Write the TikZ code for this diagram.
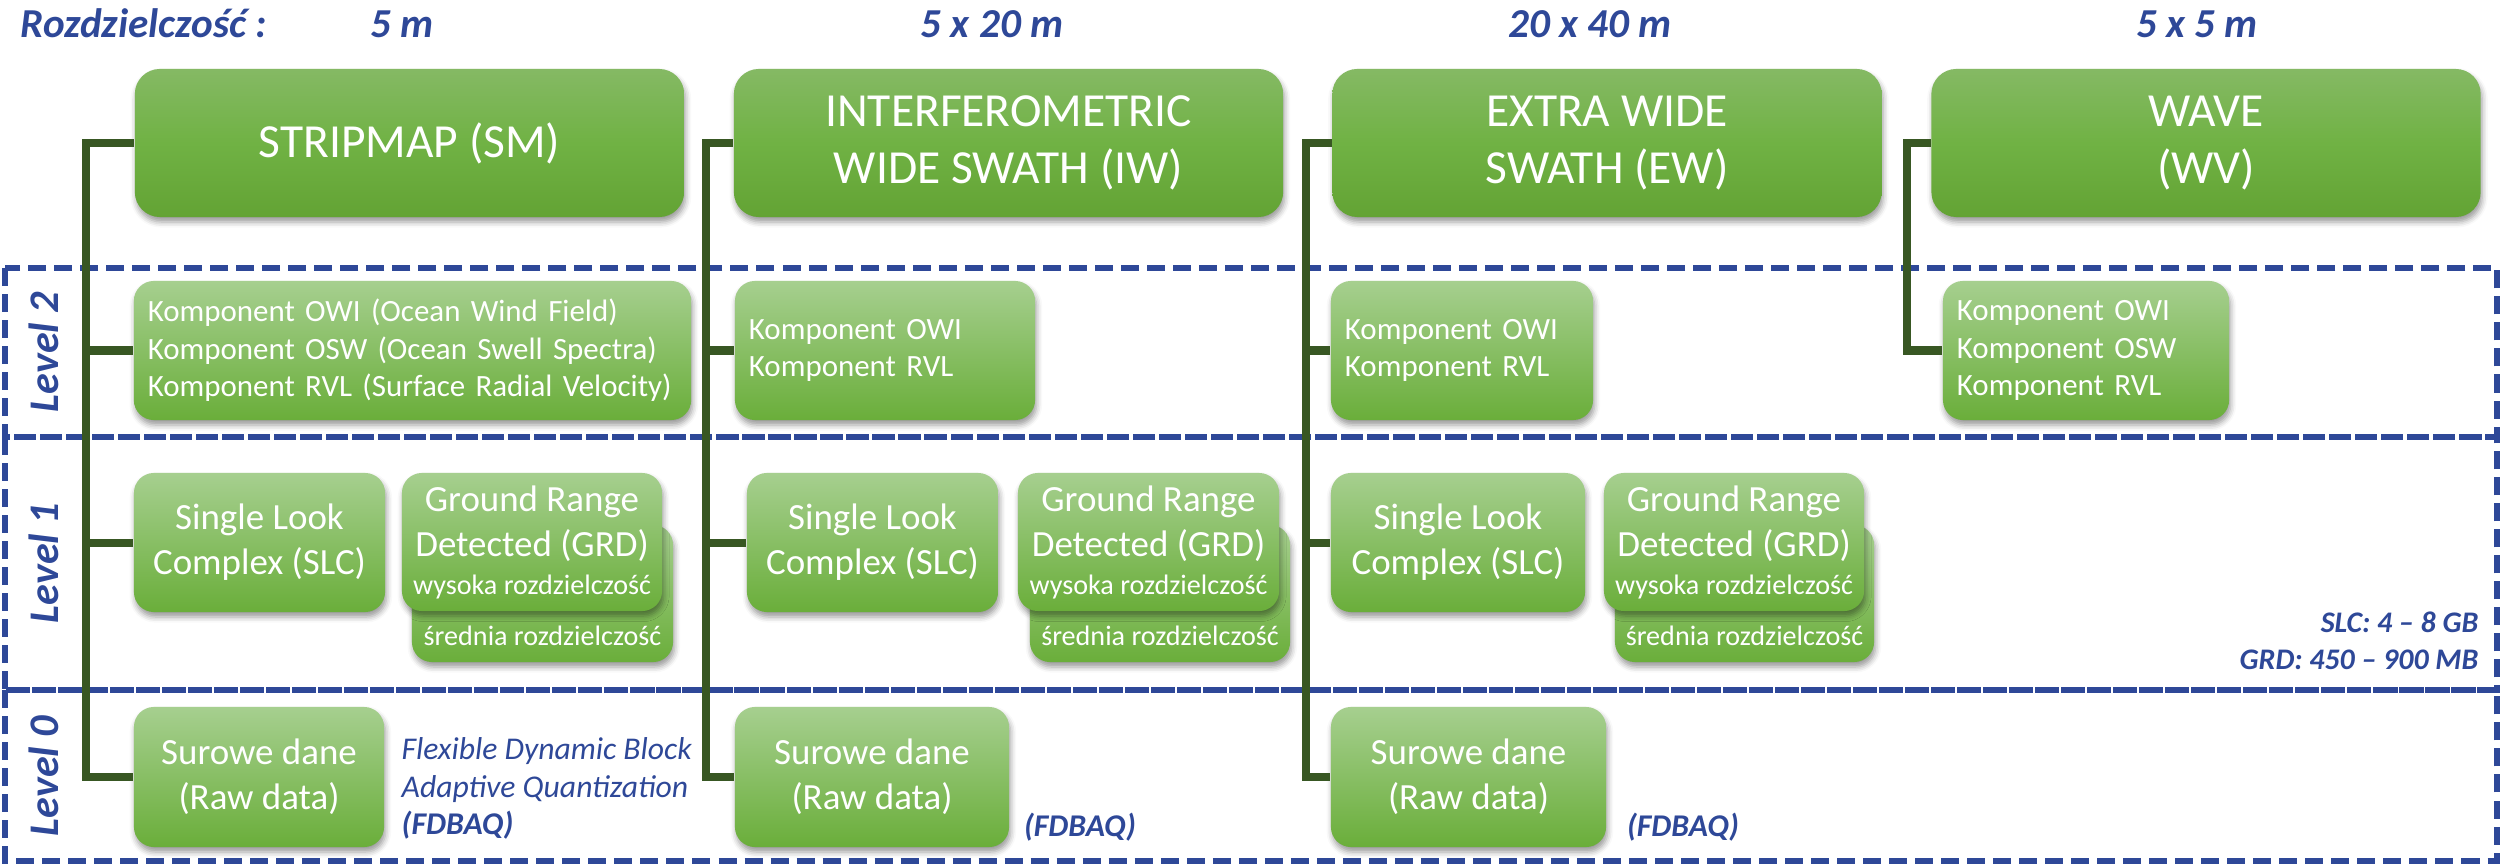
\documentclass[tikz,border=0pt]{standalone}
\usepackage{fontspec}
\setmainfont{Carlito}
\usetikzlibrary{shadows.blur}

\definecolor{headblue}{RGB}{46,72,152}
\definecolor{trunkgreen}{RGB}{56,87,35}
\definecolor{modetop}{RGB}{133,185,100}
\definecolor{modemid}{RGB}{112,178,68}
\definecolor{modebot}{RGB}{99,163,52}
\definecolor{prodtop}{RGB}{166,207,143}
\definecolor{prodbot}{RGB}{106,174,58}

\begin{document}
\begin{tikzpicture}[x=0.01cm,y=-0.01cm,
  softshadow/.style={blur shadow={shadow xshift=0.4pt,shadow yshift=-1.4pt,shadow blur radius=1.6pt,shadow opacity=40}},
  modebox/.style={rounded corners=0.25cm,top color=modetop,bottom color=modebot,middle color=modemid,
    text=white,align=center,minimum width=5.49cm,minimum height=1.48cm,inner sep=0pt,
    font=\fontsize{13.5}{16.2}\selectfont,softshadow},
  prodbox/.style={rounded corners=0.2cm,top color=prodtop,bottom color=prodbot,text=white,align=center,
    minimum height=1.39cm,inner sep=0pt,font=\fontsize{10.5}{12.8}\selectfont,softshadow},
  compbox/.style={prodbox,align=left,inner xsep=0.14cm,font=\fontsize{8.8}{10.7}\selectfont},
  smalltext/.style={text=white,anchor=base,inner sep=0pt,font=\fontsize{8}{9.5}\selectfont},
  trunk/.style={trunkgreen,line width=0.08cm},
  levelframe/.style={headblue,line width=0.055cm,dash pattern=on 0.18cm off 0.08cm},
  levellabel/.style={headblue,rotate=90,inner sep=0pt,font=\fontsize{12}{14}\selectfont\bfseries\itshape},
  restext/.style={headblue,anchor=base,inner sep=0pt,font=\fontsize{11.7}{14}\selectfont\bfseries\itshape},
  notetext/.style={headblue,inner sep=0pt,align=left,font=\fontsize{9}{10.7}\selectfont\itshape},
  sizetext/.style={headblue,inner sep=0pt,align=right,font=\fontsize{8.5}{10.5}\selectfont\bfseries\itshape}]
  \useasboundingbox (0,0) rectangle (2501,864);
  \coordinate (smBus) at (86,0); \coordinate (iwBus) at (706,0);
  \coordinate (ewBus) at (1306,0); \coordinate (wvBus) at (1907,0);

  \draw[levelframe] (5,268) rectangle (2497,437);
  \draw[levelframe] (5,437) rectangle (2497,690);
  \draw[levelframe] (5,690) rectangle (2497,861);
  \node[levellabel] (lvlTwo) at (44,352) {Level 2};
  \node[levellabel] (lvlOne) at (44,563) {Level 1};
  \node[levellabel] (lvlZero) at (44,776) {Level 0};

  \node[restext,anchor=base west] (resTitle) at (20,38) {Rozdzielczość :};
  \node[restext] (resSm) at (402,38) {5 m};
  \node[restext] (resIw) at (992,38) {5 x 20 m};
  \node[restext] (resEw) at (1590,38) {20 x 40 m};
  \node[restext] (resWv) at (2197,38) {5 x 5 m};

  \node[modebox] (smTop) at (409.5,143) {STRIPMAP (SM)};
  \node[modebox] (iwTop) at (1008.5,143) {INTERFEROMETRIC\\WIDE SWATH (IW)};
  \node[modebox] (ewTop) at (1607,143) {EXTRA WIDE\\SWATH (EW)};
  \node[modebox] (wvTop) at (2206,143) {WAVE\\(WV)};

  \node[compbox,text width=5.29cm] (smL2) at (412.5,350.5) {Komponent OWI (Ocean Wind Field)\\Komponent OSW (Ocean Swell Spectra)\\Komponent RVL (Surface Radial Velocity)};
  \node[compbox,text width=2.72cm] (iwL2) at (885,350.5) {Komponent OWI\\Komponent RVL};
  \node[compbox,text width=2.34cm] (ewL2) at (1462,350.5) {Komponent OWI\\Komponent RVL};
  \node[compbox,text width=2.58cm] (wvL2) at (2086,350.5) {Komponent OWI\\Komponent OSW\\Komponent RVL};

  \node[prodbox,minimum width=2.51cm] (smSlc) at (259.5,542.5) {Single Look\\Complex (SLC)};
  \node[prodbox,minimum width=2.61cm,minimum height=1.37cm] (smGrdMid) at (542.5,593.5) {};
  \node[smalltext] (smGrdMidTxt) at (542.5,645) {średnia rozdzielczość};
  \node[prodbox,minimum width=2.60cm,minimum height=1.38cm] (smGrd) at (532,542) {Ground Range\\Detected (GRD)\\[-2pt]{\fontsize{8}{9.5}\selectfont wysoka rozdzielczość}};
  \node[prodbox,minimum width=2.50cm,minimum height=1.40cm] (smRaw) at (259,777) {Surowe dane\\(Raw data)};
  \node[notetext,anchor=north west] (smNote) at (401,737) {Flexible Dynamic Block\\Adaptive Quantization\\\textbf{(FDBAQ)}};

  \node[prodbox,minimum width=2.51cm] (iwSlc) at (872.5,542.5) {Single Look\\Complex (SLC)};
  \node[prodbox,minimum width=2.60cm,minimum height=1.37cm] (iwGrdMid) at (1160,593.5) {};
  \node[smalltext] (iwGrdMidTxt) at (1160,645) {średnia rozdzielczość};
  \node[prodbox,minimum width=2.61cm,minimum height=1.38cm] (iwGrd) at (1148.5,542) {Ground Range\\Detected (GRD)\\[-2pt]{\fontsize{8}{9.5}\selectfont wysoka rozdzielczość}};
  \node[prodbox,minimum width=2.74cm,minimum height=1.40cm] (iwRaw) at (872,777) {Surowe dane\\(Raw data)};
  \node[notetext] (iwNote) at (1080,827) {\textbf{(FDBAQ)}};

  \node[prodbox,minimum width=2.54cm] (ewSlc) at (1458,542.5) {Single Look\\Complex (SLC)};
  \node[prodbox,minimum width=2.59cm,minimum height=1.37cm] (ewGrdMid) at (1744.5,593.5) {};
  \node[smalltext] (ewGrdMidTxt) at (1744.5,645) {średnia rozdzielczość};
  \node[prodbox,minimum width=2.60cm,minimum height=1.38cm] (ewGrd) at (1734,542) {Ground Range\\Detected (GRD)\\[-2pt]{\fontsize{8}{9.5}\selectfont wysoka rozdzielczość}};
  \node[prodbox,minimum width=2.75cm,minimum height=1.40cm] (ewRaw) at (1468.5,777) {Surowe dane\\(Raw data)};
  \node[notetext] (ewNote) at (1683,827) {\textbf{(FDBAQ)}};

  \node[sizetext,anchor=east] (sizeNote) at (2479,641) {SLC: 4 – 8 GB\\GRD: 450 – 900 MB};

  \draw[trunk] (smTop.west) -| (smBus |- smRaw.west) -- (smRaw.west);
  \draw[trunk] (smL2.west) -- (smL2.west -| smBus);
  \draw[trunk] (smSlc.west) -- (smSlc.west -| smBus);
  \draw[trunk] (iwTop.west) -| (iwBus |- iwRaw.west) -- (iwRaw.west);
  \draw[trunk] (iwL2.west) -- (iwL2.west -| iwBus);
  \draw[trunk] (iwSlc.west) -- (iwSlc.west -| iwBus);
  \draw[trunk] (ewTop.west) -| (ewBus |- ewRaw.west) -- (ewRaw.west);
  \draw[trunk] (ewL2.west) -- (ewL2.west -| ewBus);
  \draw[trunk] (ewSlc.west) -- (ewSlc.west -| ewBus);
  \draw[trunk] (wvTop.west) -| (wvBus |- wvL2.west) -- (wvL2.west);
\end{tikzpicture}
\end{document}
